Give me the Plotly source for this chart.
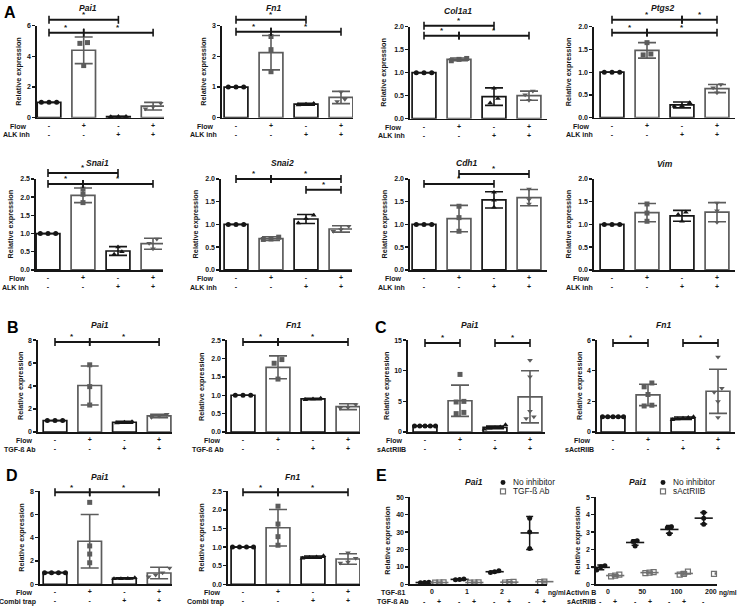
import plotly.graph_objects as go

W, H = 739, 609
FONT = "Liberation Sans, Arial, Helvetica, sans-serif"
INK = "#161616"
GREY = "#5c5c5c"
GROUP_COLORS = [INK, GREY, INK, GREY]
GROUP_SYMBOLS = ["circle", "square", "triangle-up", "triangle-down"]

# ======================= DATA =======================
flow_row = ["-", "+", "-", "+"]
inhib_row = ["-", "-", "+", "+"]

# Panel A (ALK inhibitor)
A_pai1_mean = [1.0, 4.4, 0.07, 0.75]
A_pai1_sd = [0.0, 0.87, 0.02, 0.25]
A_pai1_pts = [[1.0, 1.0, 1.0], [4.9, 4.85, 3.4], [0.06, 0.08, 0.07], [0.95, 0.72, 0.58]]

A_fn1_mean = [1.0, 2.12, 0.44, 0.66]
A_fn1_sd = [0.0, 0.56, 0.03, 0.2]
A_fn1_pts = [[1.0, 1.0, 1.0], [2.65, 2.22, 1.5], [0.46, 0.44, 0.41], [0.84, 0.6, 0.53]]

A_col1a1_mean = [1.0, 1.29, 0.48, 0.5]
A_col1a1_sd = [0.0, 0.03, 0.19, 0.1]
A_col1a1_pts = [[1.0, 1.0, 1.0], [1.31, 1.29, 1.26], [0.66, 0.44, 0.34], [0.6, 0.52, 0.4]]

A_ptgs2_mean = [1.0, 1.48, 0.28, 0.64]
A_ptgs2_sd = [0.0, 0.17, 0.065, 0.09]
A_ptgs2_pts = [[1.0, 1.0, 1.0], [1.65, 1.4, 1.38], [0.33, 0.26, 0.25], [0.73, 0.66, 0.55]]

A_snai1_mean = [1.0, 2.05, 0.52, 0.72]
A_snai1_sd = [0.0, 0.2, 0.12, 0.15]
A_snai1_pts = [[1.0, 1.0, 1.0], [2.22, 2.08, 1.85], [0.63, 0.5, 0.43], [0.85, 0.73, 0.58]]

A_snai2_mean = [1.0, 0.69, 1.12, 0.9]
A_snai2_sd = [0.0, 0.04, 0.1, 0.07]
A_snai2_pts = [[1.0, 1.0, 1.0], [0.72, 0.68, 0.67], [1.2, 1.13, 1.03], [0.96, 0.89, 0.85]]

A_cdh1_mean = [1.0, 1.13, 1.54, 1.59]
A_cdh1_sd = [0.0, 0.29, 0.18, 0.18]
A_cdh1_pts = [[1.0, 1.0, 1.0], [1.4, 1.15, 0.85], [1.71, 1.53, 1.38], [1.78, 1.55, 1.45]]

A_vim_mean = [1.0, 1.26, 1.19, 1.27]
A_vim_sd = [0.0, 0.2, 0.12, 0.21]
A_vim_pts = [[1.0, 1.0, 1.0], [1.45, 1.25, 1.07], [1.27, 1.22, 1.07], [1.47, 1.3, 1.05]]

# Panel B (TGF-beta antibody)
B_pai1_mean = [1.0, 4.05, 0.85, 1.4]
B_pai1_sd = [0.0, 1.7, 0.08, 0.15]
B_pai1_pts = [[1.0, 1.0, 1.0], [5.85, 3.95, 2.35], [0.9, 0.85, 0.78], [1.55, 1.4, 1.28]]

B_fn1_mean = [1.0, 1.76, 0.9, 0.69]
B_fn1_sd = [0.0, 0.31, 0.02, 0.08]
B_fn1_pts = [[1.0, 1.0, 1.0], [1.97, 1.87, 1.44], [0.92, 0.9, 0.88], [0.75, 0.67, 0.65]]

# Panel C (sActRIIB)
C_pai1_mean = [1.0, 5.1, 0.75, 5.75]
C_pai1_sd = [0.0, 2.55, 0.22, 4.25]
C_pai1_pts = [[1.0, 1.0, 1.0, 1.0, 1.0], [9.4, 5.0, 4.9, 3.2, 3.0],
              [1.2, 0.8, 0.7, 0.6, 0.45], [11.7, 9.0, 3.4, 2.5, 2.2]]

C_fn1_mean = [1.0, 2.42, 0.9, 2.66]
C_fn1_sd = [0.0, 0.7, 0.08, 1.44]
C_fn1_pts = [[1.0, 1.0, 1.0, 1.0, 1.0], [3.2, 2.95, 2.45, 1.75, 1.7],
             [1.0, 0.95, 0.9, 0.85, 0.8], [4.9, 2.85, 2.6, 2.0, 0.95]]

# Panel D (Combi trap)
D_pai1_mean = [1.0, 3.7, 0.5, 0.97]
D_pai1_sd = [0.0, 2.3, 0.05, 0.5]
D_pai1_pts = [[1.0, 1.0, 1.0, 1.0], [7.05, 3.3, 2.6, 1.85],
              [0.55, 0.5, 0.48, 0.47], [1.4, 1.0, 0.8, 0.65]]

D_fn1_mean = [1.0, 1.52, 0.73, 0.68]
D_fn1_sd = [0.0, 0.49, 0.03, 0.14]
D_fn1_pts = [[1.0, 1.0, 1.0, 1.0], [2.1, 1.62, 1.28, 1.05],
             [0.77, 0.73, 0.72, 0.7], [0.85, 0.7, 0.6, 0.57]]

# Panel E (dose responses)
E_tgf_dose = ["0", "1", "2", "4"]
E_tgf_none_pts = [[0.8, 1.0, 1.2], [2.6, 2.8, 3.0], [6.8, 7.2, 7.7], [38.0, 30.0, 20.5]]
E_tgf_none_mean = [1.0, 2.8, 7.2, 29.5]
E_tgf_none_sd = [0.2, 0.2, 0.45, 9.5]
E_tgf_ab_pts = [[0.9, 1.0, 1.1], [0.9, 1.0, 1.1], [1.0, 1.2, 1.4], [1.3, 1.5, 1.7]]
E_tgf_ab_mean = [1.0, 1.0, 1.2, 1.5]
E_tgf_ab_sd = [0.1, 0.1, 0.2, 0.2]

E_act_dose = ["0", "50", "100", "200"]
E_act_none_pts = [[1.07, 1.0, 0.82], [2.5, 2.45, 2.2], [3.3, 3.25, 2.9], [4.12, 3.8, 3.45]]
E_act_none_mean = [0.97, 2.4, 3.15, 3.8]
E_act_none_sd = [0.13, 0.16, 0.22, 0.33]
E_act_sact_pts = [[0.55, 0.5, 0.45], [0.7, 0.67, 0.64], [0.72, 0.6, 0.55], [0.65, 0.62, 0.6]]
E_act_sact_mean = [0.5, 0.67, 0.62, 0.62]
E_act_sact_sd = [0.05, 0.03, 0.09, 0.03]

# ======================= LAYOUT CONFIG (pixels) =======================
bar_panels = [
    dict(title="Pai1", mean=A_pai1_mean, sd=A_pai1_sd, pts=A_pai1_pts, ytop=6, dtick=2, fmt="{:.0f}",
         axis=37, c1=49, sp=34.7, end=164, top=22, zero=115, tx=(88, 4.5), rows=("Flow", "ALK inh"),
         br=[(-6, [(0, 2)]), (7, [(0, 1), (1, 3)])]),
    dict(title="Fn1", mean=A_fn1_mean, sd=A_fn1_sd, pts=A_fn1_pts, ytop=3, dtick=1, fmt="{:.0f}",
         axis=222, c1=236, sp=35, end=353, top=22, zero=115, tx=(273, 4.5), rows=("Flow", "ALK inh"),
         br=[(-6, [(0, 2)]), (6, [(0, 1), (1, 3)])]),
    dict(title="Col1a1", mean=A_col1a1_mean, sd=A_col1a1_sd, pts=A_col1a1_pts, ytop=2, dtick=0.5, fmt="{:.1f}",
         axis=410, c1=424, sp=35, end=547, top=23, zero=116, tx=(458, 7), rows=("Flow", "ALK inh"),
         br=[(-1, [(0, 2)]), (9, [(0, 1), (1, 3)])]),
    dict(title="Ptgs2", mean=A_ptgs2_mean, sd=A_ptgs2_sd, pts=A_ptgs2_pts, ytop=2, dtick=0.5, fmt="{:.1f}",
         axis=594, c1=612, sp=35, end=735, top=23, zero=115, tx=(662, 4.5), rows=("Flow", "ALK inh"),
         br=[(-7, [(0, 2), (2, 3)]), (6, [(0, 1), (1, 3)])]),
    dict(title="Snai1", mean=A_snai1_mean, sd=A_snai1_sd, pts=A_snai1_pts, ytop=2.5, dtick=0.5, fmt="{:.1f}",
         axis=36, c1=48, sp=35, end=163, top=177, zero=269, tx=(97, 161), rows=("Flow", "ALK inh"),
         br=[(-6, [(0, 2)]), (5, [(0, 1), (1, 3)])]),
    dict(title="Snai2", mean=A_snai2_mean, sd=A_snai2_sd, pts=A_snai2_pts, ytop=2, dtick=0.5, fmt="{:.1f}",
         axis=221, c1=236, sp=35, end=352, top=177, zero=269, tx=(282, 161), rows=("Flow", "ALK inh"),
         br=[(0, [(0, 1), (1, 3)]), (11, [(2, 3)])]),
    dict(title="Cdh1", mean=A_cdh1_mean, sd=A_cdh1_sd, pts=A_cdh1_pts, ytop=2, dtick=0.5, fmt="{:.1f}",
         axis=410, c1=424, sp=35, end=547, top=177, zero=269, tx=(467, 161), rows=("Flow", "ALK inh"),
         br=[(-5, [(1, 3)]), (5, [(0, 2)])]),
    dict(title="Vim", mean=A_vim_mean, sd=A_vim_sd, pts=A_vim_pts, ytop=2, dtick=0.5, fmt="{:.1f}",
         axis=594, c1=612, sp=35, end=735, top=177, zero=269, tx=(665, 162), rows=("Flow", "ALK inh"),
         br=[]),
    dict(title="Pai1", mean=B_pai1_mean, sd=B_pai1_sd, pts=B_pai1_pts, ytop=8, dtick=2, fmt="{:.0f}",
         axis=38, c1=55, sp=34.7, end=172, top=340, zero=433, tx=(100, 325), rows=("Flow", "TGF-ß Ab"),
         br=[(2, [(0, 1), (1, 3)])]),
    dict(title="Fn1", mean=B_fn1_mean, sd=B_fn1_sd, pts=B_fn1_pts, ytop=2.5, dtick=0.5, fmt="{:.1f}",
         axis=227, c1=243, sp=35, end=360, top=340, zero=433, tx=(293, 325), rows=("Flow", "TGF-ß Ab"),
         br=[(2, [(0, 1), (1, 3)])]),
    dict(title="Pai1", mean=C_pai1_mean, sd=C_pai1_sd, pts=C_pai1_pts, ytop=15, dtick=5, fmt="{:.0f}",
         axis=408, c1=425, sp=35, end=545, top=340, zero=433, tx=(470, 325), rows=("Flow", "sActRIIB"),
         br=[(3, [(0, 1)]), (3, [(2, 3)])]),
    dict(title="Fn1", mean=C_fn1_mean, sd=C_fn1_sd, pts=C_fn1_pts, ytop=6, dtick=2, fmt="{:.0f}",
         axis=597, c1=613, sp=35, end=735, top=340, zero=433, tx=(663, 325), rows=("Flow", "sActRIIB"),
         br=[(3, [(0, 1)]), (3, [(2, 3)])]),
    dict(title="Pai1", mean=D_pai1_mean, sd=D_pai1_sd, pts=D_pai1_pts, ytop=8, dtick=2, fmt="{:.0f}",
         axis=40, c1=55, sp=34.7, end=172, top=493, zero=587, tx=(100, 478), rows=("Flow", "Combi trap"),
         br=[(1, [(0, 1), (1, 3)])]),
    dict(title="Fn1", mean=D_fn1_mean, sd=D_fn1_sd, pts=D_fn1_pts, ytop=2.5, dtick=0.5, fmt="{:.1f}",
         axis=228, c1=243, sp=35, end=360, top=493, zero=587, tx=(292, 478), rows=("Flow", "Combi trap"),
         br=[(1, [(0, 1), (1, 3)])]),
]

dose_panels = [
    dict(title="Pai1", dose=E_tgf_dose, ytop=50, dtick=10, axis=410, c1=432, sp=35, end=547,
         top=499, zero=587, tx=(474, 484), rows=("TGF-ß1", "TGF-ß Ab"), row_x=393,
         series=[("No inhibitor", E_tgf_none_pts, E_tgf_none_mean, E_tgf_none_sd),
                 ("TGF-ß Ab", E_tgf_ab_pts, E_tgf_ab_mean, E_tgf_ab_sd)],
         leg=(503, 484), unit_x=547),
    dict(title="Pai1", dose=E_act_dose, ytop=5, dtick=1, axis=596, c1=608, sp=34.3, end=717,
         top=499, zero=587, tx=(638, 484), rows=("Activin B", "sActRIIB"), row_x=581,
         series=[("No inhibitor", E_act_none_pts, E_act_none_mean, E_act_none_sd),
                 ("sActRIIB", E_act_sact_pts, E_act_sact_mean, E_act_sact_sd)],
         leg=(663, 484), unit_x=718),
]

panel_letters = [("A", 10, 9), ("B", 13, 327), ("C", 381, 327), ("D", 12, 477), ("E", 381, 477)]

# ======================= BUILD =======================
fig = go.Figure()
shapes, annotations = [], []
SMALL = 7
TICKFONT = dict(family=FONT, size=SMALL, color=INK, weight="bold")


def fx(px):
    return px / W


def fy(py):
    return 1 - py / H


def ax_names(n):
    s = "" if n == 1 else str(n)
    return "xaxis" + s, "yaxis" + s, "x" + s, "y" + s


def spread(vals, thr, maxsp=0.22, span=0.6):
    order = sorted(range(len(vals)), key=lambda i: vals[i])
    clusters, cur = [], [order[0]]
    for i in order[1:]:
        if abs(vals[i] - vals[cur[-1]]) < thr:
            cur.append(i)
        else:
            clusters.append(cur)
            cur = [i]
    clusters.append(cur)
    offs = [0.0] * len(vals)
    for c in clusters:
        m = len(c)
        s = min(maxsp, span / (m - 1)) if m > 1 else 0
        for k, i in enumerate(c):
            offs[i] = (k - (m - 1) / 2) * s
    return offs


def y_ticks(ytop, dtick, fmt):
    vals, v = [], 0.0
    while v <= ytop + 1e-9:
        vals.append(round(v, 6))
        v += dtick
    return vals, [fmt.format(t) for t in vals]


def axes_common(n, p, xrange, tickvals, ticktext, fmt):
    xa, ya, xr, yr = ax_names(n)
    yv, yt = y_ticks(p["ytop"], p["dtick"], fmt)
    fig.update_layout(**{
        xa: dict(domain=[fx(p["axis"]), fx(p["end"])], range=xrange, anchor=yr,
                 showline=True, linewidth=1.6, linecolor=INK, showgrid=False, zeroline=False,
                 ticks="", tickvals=tickvals, ticktext=ticktext, tickfont=TICKFONT,
                 fixedrange=True),
        ya: dict(domain=[fy(p["zero"]), fy(p["top"])], range=[0, p["ytop"]], anchor=xr,
                 showline=True, linewidth=1.6, linecolor=INK, showgrid=False, zeroline=False,
                 ticks="outside", ticklen=3, tickwidth=1.4, tickcolor=INK,
                 tickvals=yv, ticktext=yt, tickfont=TICKFONT, fixedrange=True),
    })
    annotations.append(dict(text=p["title"], x=fx(p["tx"][0]), y=fy(p["tx"][1]), xref="paper", yref="paper",
                            showarrow=False, xanchor="center", yanchor="middle", borderpad=0,
                            font=dict(family=FONT, size=8.5, color=INK, weight="bold", style="italic")))
    nch = max(len(t) for t in yt)
    off = 14 + 4 * nch
    annotations.append(dict(text="Relative expression", x=fx(p["axis"] - off), y=fy((p["top"] + p["zero"]) / 2),
                            xref="paper", yref="paper", showarrow=False, textangle=-90,
                            xanchor="center", yanchor="middle",
                            font=dict(family=FONT, size=7.3, color=INK, weight="bold")))
    return xr, yr


for n, p in enumerate(bar_panels, start=1):
    sp = p["sp"]
    x_lo = (p["axis"] - p["c1"]) / sp
    x_hi = 3 + (p["end"] - (p["c1"] + 3 * sp)) / sp
    ticktext = [f"{a}<br>{b}" for a, b in zip(flow_row, inhib_row)]
    xr, yr = axes_common(n, p, [x_lo, x_hi], [0, 1, 2, 3], ticktext, p["fmt"])
    for g in range(4):
        fig.add_trace(go.Bar(x=[g], y=[p["mean"][g]], width=0.68, xaxis=xr, yaxis=yr, showlegend=False,
                             marker=dict(color="white", line=dict(color=GROUP_COLORS[g], width=1.7)),
                             error_y=dict(type="data", array=[p["sd"][g]], color=GROUP_COLORS[g],
                                          thickness=1.6, width=9),
                             hoverinfo="skip"))
    for g in range(4):
        vals = p["pts"][g]
        offs = spread(vals, 0.05 * p["ytop"])
        fig.add_trace(go.Scatter(x=[g + o for o in offs], y=vals, mode="markers", xaxis=xr, yaxis=yr,
                                 showlegend=False, cliponaxis=False, hoverinfo="skip",
                                 marker=dict(symbol=GROUP_SYMBOLS[g], size=5, color=GROUP_COLORS[g],
                                             line=dict(width=0))))
    for dy, segs in p["br"]:
        ypx = p["top"] + dy
        for i, j in segs:
            shapes.append(dict(type="line", xref=xr, yref="paper", x0=i, x1=j, y0=fy(ypx), y1=fy(ypx),
                               line=dict(color=INK, width=2)))
            for e in (i, j):
                shapes.append(dict(type="line", xref=xr, yref="paper", x0=e, x1=e,
                                   y0=fy(ypx - 4), y1=fy(ypx + 4), line=dict(color=INK, width=1.6)))
            annotations.append(dict(text="*", x=(i + j) / 2, y=fy(ypx + 0.3), xref=xr, yref="paper",
                                    showarrow=False, xanchor="center", yanchor="bottom", borderpad=0,
                                    font=dict(family=FONT, size=8, color=INK, weight="bold")))
    for k, lab in enumerate(p["rows"]):
        annotations.append(dict(text=lab, x=fx(p["c1"] - (21 if k == 0 else 17)), y=fy(p["zero"] + 8.5 + 9 * k),
                                xref="paper", yref="paper", showarrow=False,
                                xanchor="right", yanchor="middle",
                                font=dict(family=FONT, size=SMALL, color=INK, weight="bold")))

SER_STYLE = [dict(symbol="circle", color=INK, lw=0), dict(symbol="square-open", color="#707070", lw=1.2)]
for k, p in enumerate(dose_panels):
    n = len(bar_panels) + 1 + k
    sp = p["sp"]
    x_lo = (p["axis"] - p["c1"]) / sp
    x_hi = 3 + (p["end"] - (p["c1"] + 3 * sp)) / sp
    xr, yr = axes_common(n, p, [x_lo, x_hi], [0, 1, 2, 3], p["dose"], "{:.0f}")
    for s, (name, pts, mean, sd) in enumerate(p["series"]):
        st = SER_STYLE[s]
        shift = -0.21 if s == 0 else 0.21
        xs, ys = [], []
        for g in range(4):
            offs = spread(pts[g], 0.04 * p["ytop"], maxsp=0.12, span=0.24)
            xs += [g + shift + o for o in offs]
            ys += pts[g]
        fig.add_trace(go.Scatter(x=xs, y=ys, mode="markers", xaxis=xr, yaxis=yr, showlegend=False,
                                 cliponaxis=False, hoverinfo="skip",
                                 marker=dict(symbol=st["symbol"], size=5, color=st["color"],
                                             line=dict(width=st["lw"], color=st["color"]))))
        fig.add_trace(go.Scatter(x=[g + shift for g in range(4)], y=mean, mode="markers", xaxis=xr, yaxis=yr,
                                 showlegend=False, cliponaxis=False, hoverinfo="skip",
                                 marker=dict(symbol="line-ew", size=13, color=st["color"],
                                             line=dict(width=1.6, color=st["color"])),
                                 error_y=dict(type="data", array=sd, color=st["color"], thickness=1.5, width=3.5)))
        for g in range(4):
            annotations.append(dict(text="-" if s == 0 else "+", x=g + shift, y=fy(p["zero"] + 17),
                                    xref=xr, yref="paper", showarrow=False, xanchor="center", yanchor="middle",
                                    font=dict(family=FONT, size=SMALL, color=INK, weight="bold")))
        lx, ly = p["leg"]
        ly += 9 * s
        if s == 0:
            shapes.append(dict(type="circle", xref="paper", yref="paper", x0=fx(lx - 2.5), x1=fx(lx + 2.5),
                               y0=fy(ly + 2.5), y1=fy(ly - 2.5), fillcolor=INK, line=dict(width=0)))
        else:
            shapes.append(dict(type="rect", xref="paper", yref="paper", x0=fx(lx - 2.5), x1=fx(lx + 2.5),
                               y0=fy(ly + 2.5), y1=fy(ly - 2.5), fillcolor="white",
                               line=dict(width=1.2, color="#707070")))
        annotations.append(dict(text=name, x=fx(lx + 8), y=fy(ly), xref="paper", yref="paper",
                                showarrow=False, xanchor="left", yanchor="middle",
                                font=dict(family=FONT, size=8.3, color=INK)))
    for r, lab in enumerate(p["rows"]):
        annotations.append(dict(text=lab, x=fx(p["row_x"]), y=fy(p["zero"] + 8.5 + 8.5 * r),
                                xref="paper", yref="paper", showarrow=False, xanchor="center", yanchor="middle",
                                font=dict(family=FONT, size=SMALL, color=INK, weight="bold")))
    annotations.append(dict(text="ng/ml", x=fx(p["unit_x"]), y=fy(p["zero"] + 8.5), xref="paper", yref="paper",
                            showarrow=False, xanchor="left", yanchor="middle", borderpad=0,
                            font=dict(family=FONT, size=6.6, color=INK, weight="bold")))

for lab, x, y in panel_letters:
    annotations.append(dict(text=lab, x=fx(x), y=fy(y), xref="paper", yref="paper", showarrow=False,
                            xanchor="center", yanchor="middle",
                            font=dict(family=FONT, size=16, color="#000", weight="bold")))

fig.update_layout(width=W, height=H, autosize=False, margin=dict(l=0, r=0, t=0, b=0),
                  paper_bgcolor="white", plot_bgcolor="white", barmode="overlay",
                  font=dict(family=FONT, color=INK), showlegend=False,
                  shapes=shapes, annotations=annotations)

fig.write_html("out.html", config={"displayModeBar": False, "staticPlot": True},
               post_script="document.body.style.margin='0px';document.body.style.overflow='hidden';")
